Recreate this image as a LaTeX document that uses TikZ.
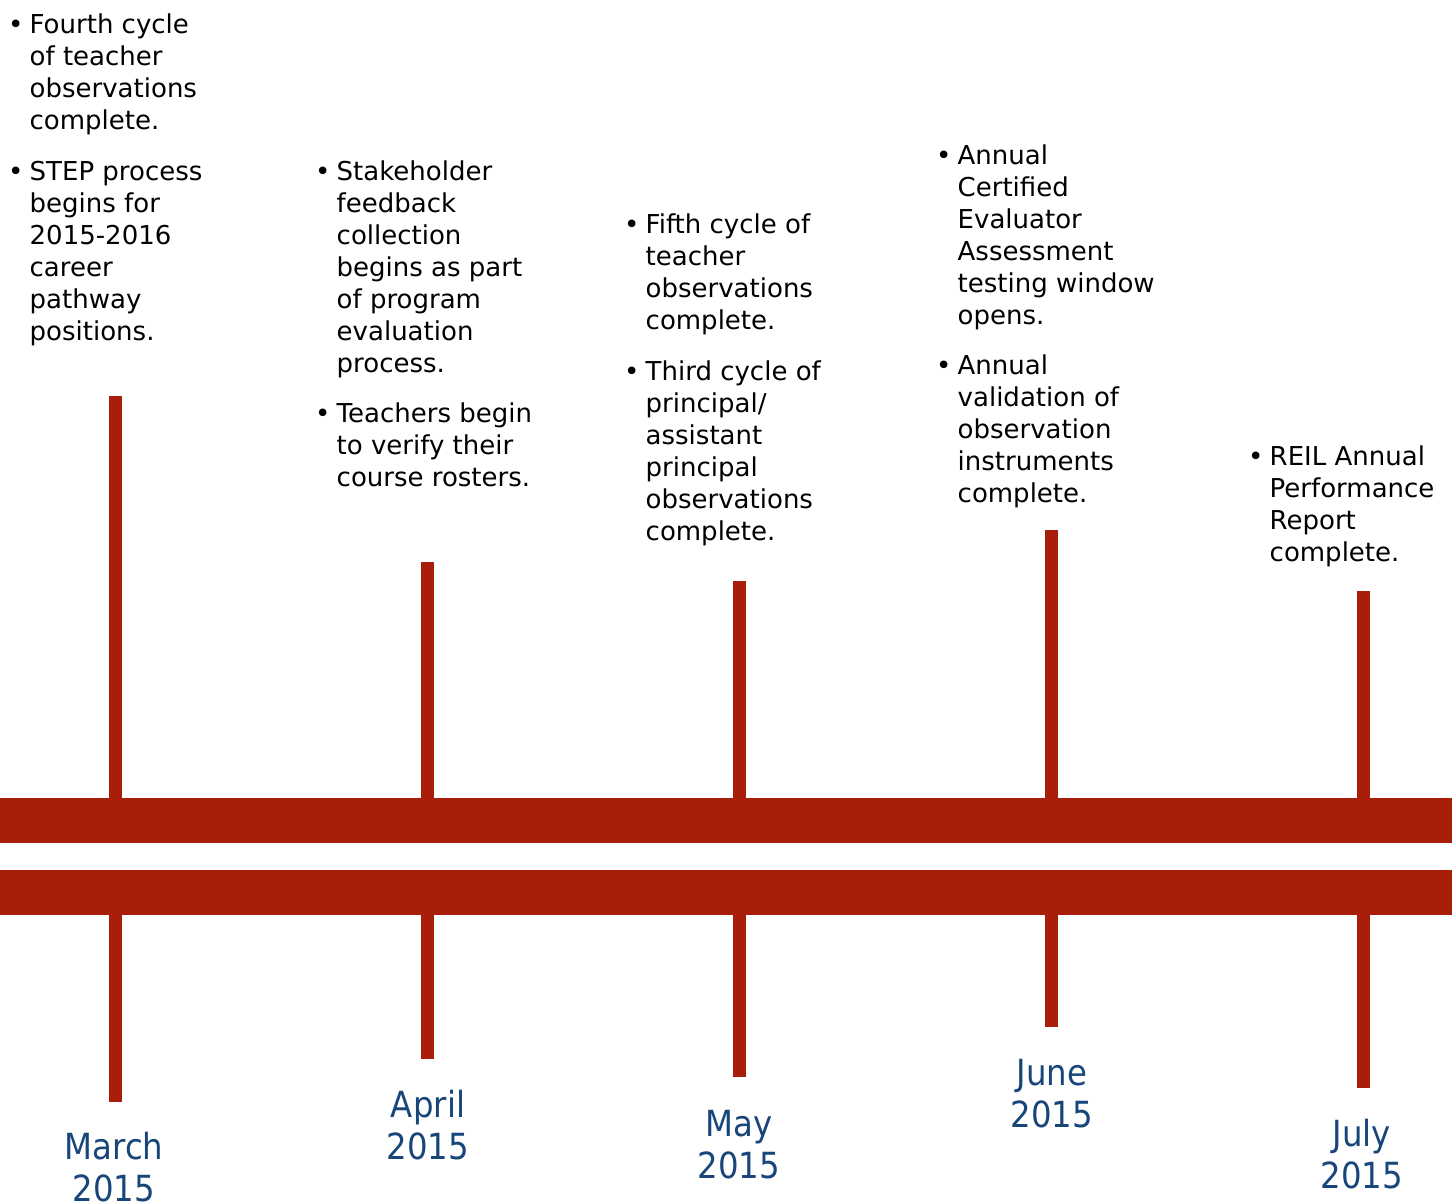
\documentclass[tikz,border=0pt]{standalone}
\usepackage{fontspec}
\setmainfont{DejaVu Sans}
\newfontfamily\condfont{DejaVu Sans}[FakeStretch=0.9]
\definecolor{barred}{RGB}{168,30,10}
\definecolor{monthblue}{RGB}{24,70,122}
\newcommand\tlbul{\llap{\makebox[21.5pt][l]{•}}}
\begin{document}
\begin{tikzpicture}[x=1pt,y=-1pt,
  item/.style={anchor=base west, align=left, inner sep=0pt, font=\fontsize{26}{32}\selectfont, text=black},
  month/.style={anchor=base, align=center, inner sep=0pt, font=\condfont\fontsize{36}{42}\selectfont, text=monthblue},
  barfill/.style={fill=barred, draw=none}]
\useasboundingbox (0,0) rectangle (1452,1203);
% main bars
\fill[barfill] (0,798) rectangle (1452,843);
\fill[barfill] (0,870) rectangle (1452,915);
% ticks
\fill[barfill] (108.5,396) rectangle (121.5,798);
\fill[barfill] (108.5,915) rectangle (121.5,1102);
\fill[barfill] (420.5,562) rectangle (433.5,798);
\fill[barfill] (420.5,915) rectangle (433.5,1059);
\fill[barfill] (732.5,581) rectangle (745.5,798);
\fill[barfill] (732.5,915) rectangle (745.5,1077);
\fill[barfill] (1044.5,530) rectangle (1057.5,798);
\fill[barfill] (1044.5,915) rectangle (1057.5,1027);
\fill[barfill] (1356.5,591) rectangle (1369.5,798);
\fill[barfill] (1356.5,915) rectangle (1369.5,1088);
% month labels (anchored at the baseline of the last line)
\node[month] (mar) at (114,1201) {March\\2015};
\node[month] (apr) at (428,1159) {April\\2015};
\node[month] (may) at (739,1178) {May\\2015};
\node[month] (jun) at (1052,1127) {June\\2015};
\node[month] (jul) at (1362,1188) {July\\2015};
% events (anchored at the baseline of the last line)
\node[item] (e1a) at (29.5,129) {\tlbul Fourth cycle\\of teacher\\observations\\complete.};
\node[item] (e1b) at (29.5,340) {\tlbul STEP process\\begins for\\2015-2016\\career\\pathway\\positions.};
\node[item] (e2a) at (336.5,372) {\tlbul Stakeholder\\feedback\\collection\\begins as part\\of program\\evaluation\\process.};
\node[item] (e2b) at (336.5,486) {\tlbul Teachers begin\\to verify their\\course rosters.};
\node[item] (e3a) at (645.5,329) {\tlbul Fifth cycle of\\teacher\\observations\\complete.};
\node[item] (e3b) at (645.5,540) {\tlbul Third cycle of\\principal/\\assistant\\principal\\observations\\complete.};
\node[item] (e4a) at (957.5,324) {\tlbul Annual\\Certified\\Evaluator\\Assessment\\testing window\\opens.};
\node[item] (e4b) at (957.5,502) {\tlbul Annual\\validation of\\observation\\instruments\\complete.};
\node[item] (e5a) at (1269.5,561) {\tlbul REIL Annual\\Performance\\Report\\complete.};
\end{tikzpicture}
\end{document}
